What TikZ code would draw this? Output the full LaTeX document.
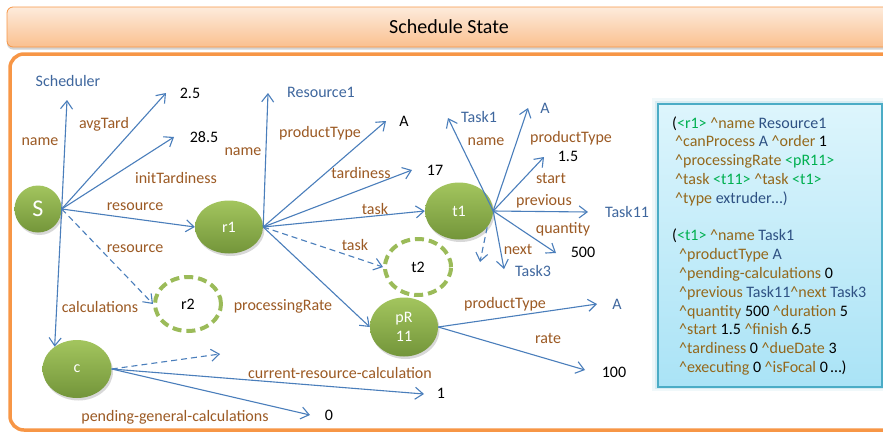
\documentclass[tikz,border=0pt]{standalone}
\usepackage{fontspec}
\setmainfont{Carlito}
\usetikzlibrary{arrows.meta,shapes.geometric,shadows}

\definecolor{arrblue}{HTML}{4A7EBB}
\definecolor{lblbrown}{HTML}{9C5A24}
\definecolor{txtblue}{HTML}{3F679E}
\definecolor{gtop}{HTML}{A3C55E}
\definecolor{gbot}{HTML}{73953A}
\definecolor{gdash}{HTML}{9BBB59}
\definecolor{orframe}{HTML}{F79646}
\definecolor{titletop}{HTML}{FDEBDC}
\definecolor{titlebot}{HTML}{FAC08F}
\definecolor{boxtop}{HTML}{DDF5FC}
\definecolor{boxbot}{HTML}{AAE3F6}
\definecolor{boxedge}{HTML}{4BACC6}
\definecolor{bxgreen}{HTML}{00B050}
\definecolor{bxgold}{HTML}{94681C}
\definecolor{bxblue}{HTML}{2E5183}

\newcommand\crt{\textasciicircum}
\newcommand\bxG[1]{\textcolor{bxgreen}{#1}}
\newcommand\bxA[1]{\textcolor{bxgold}{#1}}
\newcommand\bxB[1]{\textcolor{bxblue}{#1}}

\begin{document}
\begin{tikzpicture}[x=1pt,y=-1pt,
  lbl/.style={font=\fontsize{16}{19}\selectfont, text=lblbrown, inner sep=0pt, text height=11pt, text depth=1pt},
  val/.style={font=\fontsize{16}{19}\selectfont, text=black, inner sep=0pt, text height=11pt, text depth=1pt},
  bval/.style={val, text=txtblue},
  gnode/.style={ellipse, top color=gtop, bottom color=gbot, draw=none, inner sep=0pt, text=white,
    font=\fontsize{16}{19}\selectfont,
    drop shadow={shadow xshift=1.5pt, shadow yshift=-2.5pt, opacity=0.3}},
  dnode/.style={ellipse, draw=gdash, line width=4pt, dash pattern=on 9pt off 5pt, fill=white,
    inner sep=0pt, font=\fontsize{16}{19}\selectfont},
  arr/.style={draw=arrblue, line width=1.1pt, -{Straight Barb[length=8pt,width=12pt]}},
  darr/.style={arr, dash pattern=on 6pt off 4pt},
  bxl/.style={anchor=base west, inner sep=0pt, font=\fontsize{16}{18.8}\selectfont}
]
\useasboundingbox (0,0) rectangle (883,432);
\clip (0,0) rectangle (883,432);

% frame
\draw[orframe, line width=3.5pt, rounded corners=14pt, fill=white] (10,54) rectangle (905,430);
% title bar
\path[draw=orframe, line width=0.8pt, top color=titletop, bottom color=titlebot, rounded corners=6pt,
  drop shadow={shadow xshift=0pt, shadow yshift=-2.5pt, opacity=0.35}] (7,7) rectangle (905,47);
\node[font=\fontsize{20}{24}\selectfont] (title) at (449,27) {Schedule State};

% info box with glow
\draw[boxedge, line width=10pt, opacity=0.08] (657,103) rectangle (881,386);
\draw[boxedge, line width=5pt, opacity=0.15] (657,103) rectangle (881,386);
\node[draw=boxedge, line width=1.5pt, top color=boxtop, bottom color=boxbot, minimum width=224pt,
  minimum height=283pt, anchor=north west, inner sep=0pt] (infobox) at (657,103) {};

\node[bxl] (b1) at (672,128) {(\bxG{<r1>} \bxA{\crt name} \bxB{Resource1}};
\node[bxl] (b2) at (675,146.8) {\bxA{\crt canProcess} \bxB{A} \bxA{\crt order} 1};
\node[bxl] (b3) at (675,165.6) {\bxA{\crt processingRate} \bxG{<pR11>}};
\node[bxl] (b4) at (675,184.4) {\bxA{\crt task} \bxG{<t11>} \bxA{\crt task} \bxG{<t1>}};
\node[bxl] (b5) at (675,203.2) {\bxA{\crt type} \bxB{extruder…)}};
\node[bxl] (b6) at (672,240.8) {(\bxG{<t1>} \bxA{\crt name} \bxB{Task1}};
\node[bxl] (b7) at (679,259.6) {\bxA{\crt productType} \bxB{A}};
\node[bxl] (b8) at (679,278.4) {\bxA{\crt pending-calculations} 0};
\node[bxl] (b9) at (679,297.2) {\bxA{\crt previous} \bxB{Task11}\bxA{\crt next} \bxB{Task3}};
\node[bxl] (b10) at (679,316) {\bxA{\crt quantity} 500 \bxA{\crt duration} 5};
\node[bxl] (b11) at (679,334.8) {\bxA{\crt start} 1.5 \bxA{\crt finish} 6.5};
\node[bxl] (b12) at (679,353.6) {\bxA{\crt tardiness} 0 \bxA{\crt dueDate} 3};
\node[bxl] (b13) at (679,372.4) {\bxA{\crt executing} 0 \bxA{\crt isFocal} 0\,…)};

% main nodes
\node[gnode, circle, minimum size=47pt, font=\fontsize{24}{28}\selectfont] (S) at (38,209) {S};
\node[gnode, minimum width=68pt, minimum height=53pt] (r1) at (229,227) {r1};
\node[gnode, minimum width=68pt, minimum height=57pt] (t1) at (459,211) {t1};
\node[gnode, minimum width=68pt, minimum height=59pt, align=center] (pR) at (404,327) {pR\\11};
\node[gnode, minimum width=69pt, minimum height=58pt] (c) at (77,369) {c};
\node[dnode, minimum width=66pt, minimum height=54pt] (r2) at (188,304) {r2};
\node[dnode, minimum width=66pt, minimum height=56pt] (t2) at (418,267) {t2};

% labels and values
\node[bval] (tSched) at (68,81) {Scheduler};
\node[lbl] (lSname) at (40,140) {name};
\node[lbl] (lavg) at (104,123) {avgTard};
\node[val] (v25) at (190,93) {2.5};
\node[val] (v285) at (204,137) {28.5};
\node[lbl] (linit) at (176,178) {initTardiness};
\node[lbl] (lres) at (135,205) {resource};
\node[lbl] (lres2) at (135,247) {resource};
\node[lbl] (lcalc) at (100,307) {calculations};
\node[bval] (tRes1) at (321,92) {Resource1};
\node[lbl] (lr1name) at (243,150) {name};
\node[lbl] (lr1pt) at (320,132) {productType};
\node[val] (vA1) at (404,121) {A};
\node[lbl] (ltard) at (361,173) {tardiness};
\node[val] (v17) at (435,170) {17};
\node[lbl] (ltask) at (375,209) {task};
\node[lbl] (ltask2) at (355,245) {task};
\node[lbl] (lproc) at (283,305) {processingRate};
\node[bval] (tTask1) at (479,117) {Task1};
\node[lbl] (lt1name) at (486,140) {name};
\node[bval] (vA2) at (545,108) {A};
\node[lbl] (lt1pt) at (571,137) {productType};
\node[val] (v15) at (568,156) {1.5};
\node[lbl] (lstart) at (551,178) {start};
\node[lbl] (lprev) at (544,200) {previous};
\node[bval] (tTask11) at (627,212) {Task11};
\node[lbl] (lqty) at (563,228) {quantity};
\node[val] (v500) at (583,252) {500};
\node[lbl] (lnext) at (518,249) {next};
\node[bval] (tTask3) at (533,271) {Task3};
\node[lbl] (lpRpt) at (505,303) {productType};
\node[bval] (vA3) at (617,304) {A};
\node[lbl] (lrate) at (548,338) {rate};
\node[val] (v100) at (614,372) {100};
\node[lbl] (lcur) at (340,373) {current-resource-calculation};
\node[val] (v1) at (441,393) {1};
\node[lbl] (lpend) at (175,416) {pending-general-calculations};
\node[val] (v0) at (329,415) {0};

% arrow free ends
\coordinate (eSname) at (67,100);
\coordinate (eavg) at (166,93);
\coordinate (einit) at (174,137);
\coordinate (er1name) at (268,93);
\coordinate (er1pt) at (386,121);
\coordinate (etard) at (412,170);
\coordinate (et1name) at (448,118);
\coordinate (et1pt) at (528,108);
\coordinate (estart) at (544,157);
\coordinate (eprev) at (588,212);
\coordinate (eqty) at (556,253);
\coordinate (enext) at (504,269);
\coordinate (et1d) at (480,262);
\coordinate (epRpt) at (597,304);
\coordinate (erate) at (585,370);
\coordinate (ecd) at (220,354);
\coordinate (ecur) at (424,394);
\coordinate (epend) at (310,415);

% connectors from S
\draw[arr] (S.east) -- (eSname);
\draw[arr] (S.east) -- (eavg);
\draw[arr] (S.east) -- (einit);
\draw[arr] (S.east) -- (r1.west);
\draw[darr] (S.east) -- (r2.west);
\draw[arr] (S.east) -- (c.135);
% from r1
\draw[arr] (r1.east) -- (er1name);
\draw[arr] (r1.east) -- (er1pt);
\draw[arr] (r1.east) -- (etard);
\draw[arr] (r1.east) -- (t1.west);
\draw[darr] (r1.east) -- (t2.west);
\draw[arr] (r1.east) -- (pR.west);
% from t1
\draw[arr] (t1.east) -- (et1name);
\draw[arr] (t1.east) -- (et1pt);
\draw[arr] (t1.east) -- (estart);
\draw[arr] (t1.east) -- (eprev);
\draw[arr] (t1.east) -- (eqty);
\draw[arr] (t1.east) -- (enext);
\draw[darr] (t1.-30) -- (et1d);
% from pR
\draw[arr] (pR.east) -- (epRpt);
\draw[arr] (pR.east) -- (erate);
% from c
\draw[darr] (c.east) -- (ecd);
\draw[arr] (c.east) -- (ecur);
\draw[arr] (c.east) -- (epend);
\end{tikzpicture}
\end{document}
